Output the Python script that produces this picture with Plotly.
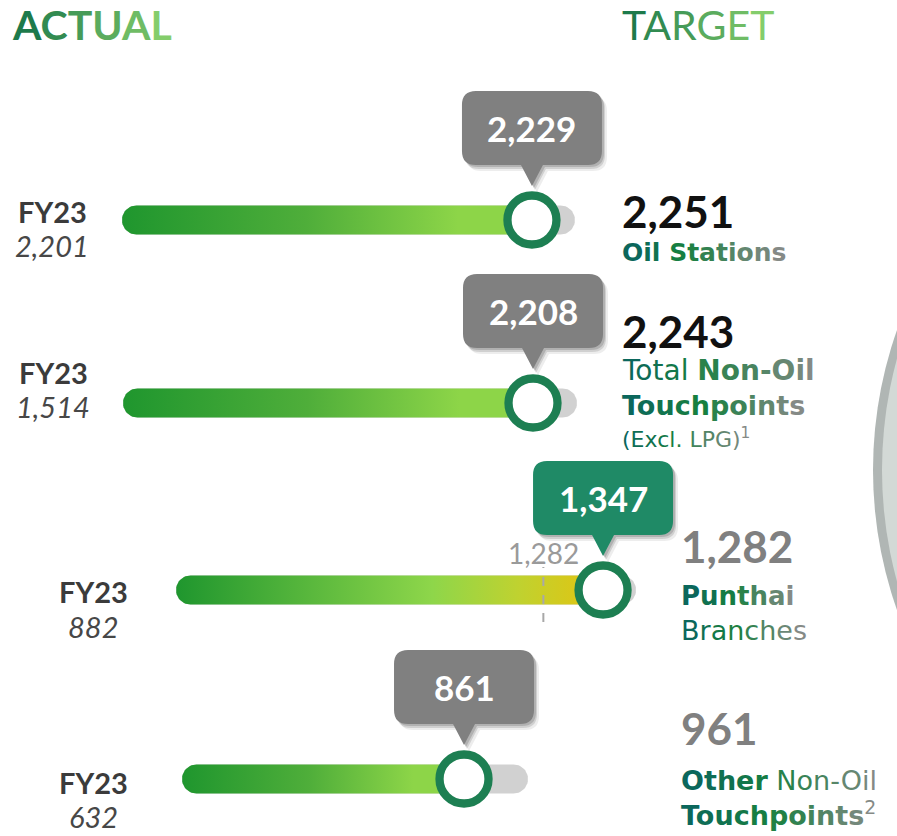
import numpy as np
import plotly.graph_objects as go

W, H = 897, 836
FONT = "Lato"
DESC_FONT = "DejaVu Sans"

# ---- data -----------------------------------------------------------------
categories = ["Oil Stations", "Total Non-Oil Touchpoints", "Punthai Branches",
              "Other Non-Oil Touchpoints"]
fy23 = [2201, 1514, 882, 632]
actual = [2229, 2208, 1347, 861]
target = [2251, 2243, 1282, 961]

# ---- layout / style --------------------------------------------------------
ROW_Y = [220, 403, 590, 779]                      # row centre lines (px)
X_RANGES = [(2192.67, 2253.93), (1305.8, 2824.1),  # per-row value axes
            (690.3, 1667.1), (484.2, 1212.6)]
TRACK_TAIL_PX = [43, 44, 33, 64]
BAR_R = 14.5
TRACK_COLOR = "#d1d1d1"
RING_COLOR = "#1d7f52"
BOX_GREY = "#808080"
BOX_GREEN = "#1f8a66"
GRAD_NORMAL = [[0, "#1f962e"], [0.45, "#4fae3a"], [0.82, "#8dd548"], [1, "#8dd548"]]
GRAD_EXCEED = [[0, "#1f962e"], [0.6, "#8ed64a"], [0.8, "#bfd230"], [1, "#e5c30e"]]


def axis_name(i):
    return "x" if i == 0 else f"x{i + 1}"


def px_scale(i):
    lo, hi = X_RANGES[i]
    return W / (hi - lo)


def stadium(x0, x1, yc, r, s, round_right=True, n=28):
    rx = r / s
    xs, ys = [], []
    cx = x0 + rx
    for t in np.linspace(np.pi / 2, 3 * np.pi / 2, n):
        xs.append(cx + rx * np.cos(t))
        ys.append(yc - r * np.sin(t))
    if round_right:
        cx2 = x1 - rx
        for t in np.linspace(-np.pi / 2, np.pi / 2, n):
            xs.append(cx2 + rx * np.cos(t))
            ys.append(yc - r * np.sin(t))
    else:
        xs += [x1, x1]
        ys += [yc + r, yc - r]
    xs.append(xs[0])
    ys.append(ys[0])
    return xs, ys


def hex2rgb(h):
    h = h.lstrip("#")
    return [int(h[k:k + 2], 16) for k in (0, 2, 4)]


def mix(stops, t):
    for (p0, c0), (p1, c1) in zip(stops[:-1], stops[1:]):
        if t <= p1:
            f = 0 if p1 == p0 else (t - p0) / (p1 - p0)
            a, b = hex2rgb(c0), hex2rgb(c1)
            return "#%02x%02x%02x" % tuple(int(round(a[k] + (b[k] - a[k]) * f)) for k in range(3))
    return stops[-1][1]


TEXT_GRAD = [(0, "#0b675c"), (0.4, "#17803f"), (1, "#858a86")]


def grad_text(segments, stops=TEXT_GRAD):
    """segments: list of (text, style) where style in '', 'b', 'sup'."""
    total = sum(len(t) for t, _ in segments)
    out, k = [], 0
    for text, style in segments:
        chunk = ""
        for ch in text:
            c = mix(stops, k / max(total - 1, 1))
            chunk += f'<span style="color:{c}">{ch}</span>'
            k += 1
        if style:
            chunk = f"<{style}>{chunk}</{style}>"
        out.append(chunk)
    return "".join(out)


fig = go.Figure()
shapes, annotations = [], []


def ann(text, x, y, size, color="#000", xanchor="left", family=FONT, **kw):
    annotations.append(dict(text=text, x=x / W, y=1 - y / H, xref="paper", yref="paper",
                            xanchor=xanchor, yanchor="middle", showarrow=False,
                            font=dict(family=family, size=size, color=color), **kw))


# ---- bars, markers, callouts ----------------------------------------------
for i in range(4):
    xa = axis_name(i)
    s = px_scale(i)
    yc = ROW_Y[i]
    exceeded = actual[i] >= target[i]

    # grey track
    tx, ty = stadium(fy23[i], actual[i] + TRACK_TAIL_PX[i] / s, yc, BAR_R, s)
    fig.add_trace(go.Scatter(x=tx, y=ty, mode="lines", fill="toself",
                             fillcolor=TRACK_COLOR, line=dict(width=0),
                             xaxis=xa, yaxis="y", hoverinfo="skip", showlegend=False))
    # progress fill
    fx, fy = stadium(fy23[i], actual[i], yc, BAR_R, s, round_right=False)
    fig.add_trace(go.Scatter(x=fx, y=fy, mode="lines", fill="toself",
                             fillgradient=dict(type="horizontal",
                                               colorscale=GRAD_EXCEED if exceeded else GRAD_NORMAL,
                                               start=fy23[i], stop=actual[i]),
                             line=dict(width=0), xaxis=xa, yaxis="y",
                             hoverinfo="skip", showlegend=False))

    # target marker inside the bar when it has been passed
    if exceeded:
        shapes.append(dict(type="line", xref=xa, yref="y", x0=target[i], x1=target[i],
                           ysizemode="pixel", yanchor=yc, y0=-32, y1=23,
                           line=dict(color="#a8a8a8", width=2, dash="dash")))
        annotations.append(dict(text=f"{target[i]:,}", x=target[i], y=yc, xref=xa, yref="y",
                                yshift=37, showarrow=False, xanchor="center", yanchor="middle",
                                font=dict(family=FONT, size=28, color="#9a9a9a")))

    # current-value marker
    fig.add_trace(go.Scatter(x=[actual[i]], y=[yc], mode="markers",
                             marker=dict(size=49, color="white",
                                         line=dict(width=8.3, color=RING_COLOR)),
                             xaxis=xa, yaxis="y", hoverinfo="skip", showlegend=False,
                             cliponaxis=False))

    # callout bubble
    bw, bh, r, b, tip, hw = 140, 74, 14, 55, 34, 11
    t = b + bh
    L, R = -bw / 2, bw / 2

    def bubble(dx=0, dy=0):
        return (f"M {L + r + dx},{b + dy} L {-hw + dx},{b + dy} L {dx},{tip + dy} L {hw + dx},{b + dy} "
                f"L {R - r + dx},{b + dy} Q {R + dx},{b + dy} {R + dx},{b + r + dy} "
                f"L {R + dx},{t - r + dy} Q {R + dx},{t + dy} {R - r + dx},{t + dy} "
                f"L {L + r + dx},{t + dy} Q {L + dx},{t + dy} {L + dx},{t - r + dy} "
                f"L {L + dx},{b + r + dy} Q {L + dx},{b + dy} {L + r + dx},{b + dy} Z")

    for (dx, dy, a) in [(5, -6, 0.07), (3, -4, 0.12), (2, -2, 0.15)]:
        shapes.append(dict(type="path", xref=xa, yref="y", xsizemode="pixel", ysizemode="pixel",
                           xanchor=actual[i], yanchor=yc, path=bubble(dx, dy),
                           fillcolor=f"rgba(0,0,0,{a})", line=dict(width=0)))
    shapes.append(dict(type="path", xref=xa, yref="y", xsizemode="pixel", ysizemode="pixel",
                       xanchor=actual[i], yanchor=yc, path=bubble(),
                       fillcolor=BOX_GREEN if exceeded else BOX_GREY, line=dict(width=0)))
    annotations.append(dict(text=f"<b>{actual[i]:,}</b>", x=actual[i], y=yc, xref=xa, yref="y",
                            yshift=b + bh / 2, showarrow=False, xanchor="center", yanchor="middle",
                            font=dict(family=FONT, size=35, color="white")))

# ---- left FY23 labels -------------------------------------------------------
LEFT_X = [52, 53, 93, 93]
FY_Y = [211, 372, 591, 782]
NUM_Y = [246, 406, 626, 816]
for i in range(4):
    ann("<b>FY23</b>", LEFT_X[i], FY_Y[i], 29, "#3b3b3b", xanchor="center")
    ann(f"<i>{fy23[i]:,}</i>", LEFT_X[i], NUM_Y[i], 29, "#474747", xanchor="center")

# ---- right target labels ----------------------------------------------------
RIGHT_X = [620, 620, 679, 679]
TARGET_Y = [211, 331, 546, 728]
TARGET_COLOR = ["#111111", "#111111", "#808080", "#808080"]
for i in range(4):
    ann(f"<b>{target[i]:,}</b>", RIGHT_X[i], TARGET_Y[i], 44, TARGET_COLOR[i])

desc_lines = [
    [([("Oil Stations", "b")], 25, 253)],
    [([("Total ", ""), ("Non-Oil", "b")], 28, 371),
     ([("Touchpoints", "b")], 27, 405),
     ([("(Excl. LPG)", ""), ("1", "sup")], 22, 438)],
    [([("Punthai", "b")], 26, 596),
     ([("Branches", "")], 27, 630)],
    [([("Other", "b"), (" Non-Oil", "")], 27, 780),
     ([("Touchpoints", "b"), ("2", "sup")], 27, 813)],
]
for i, lines in enumerate(desc_lines):
    for segs, size, y in lines:
        ann(grad_text(segs), RIGHT_X[i], y, size, family=DESC_FONT)

# ---- headers ----------------------------------------------------------------
HEAD_GRAD = [(0, "#1d7a4b"), (1, "#84cd6b")]
ann("<b>" + grad_text([("ACTUAL", "")], HEAD_GRAD) + "</b>", 10, 25, 41)
ann(grad_text([("TARGET", "")], HEAD_GRAD), 620, 25, 41)

# ---- decorative disc at the right edge ----------------------------------------
for cx, r, col in [(1293, 420, "#b0b6b4"), (1303, 421, "#d3d9d6")]:
    shapes.append(dict(type="circle", xref="paper", yref="paper",
                       x0=(cx - r) / W, x1=(cx + r) / W,
                       y0=1 - (470 + r) / H, y1=1 - (470 - r) / H,
                       fillcolor=col, line=dict(width=0), layer="below"))

layout = dict(
    width=W, height=H, margin=dict(l=0, r=0, t=0, b=0),
    paper_bgcolor="white", plot_bgcolor="rgba(0,0,0,0)",
    showlegend=False, hovermode=False,
    yaxis=dict(domain=[0, 1], range=[H, 0], visible=False, fixedrange=True, anchor="x"),
    shapes=shapes, annotations=annotations,
)
for i in range(4):
    key = "xaxis" if i == 0 else f"xaxis{i + 1}"
    layout[key] = dict(domain=[0, 1], range=list(X_RANGES[i]), visible=False,
                       fixedrange=True, anchor="y")
fig.update_layout(**layout)

fig.write_html("out.html", config={"displayModeBar": False})
